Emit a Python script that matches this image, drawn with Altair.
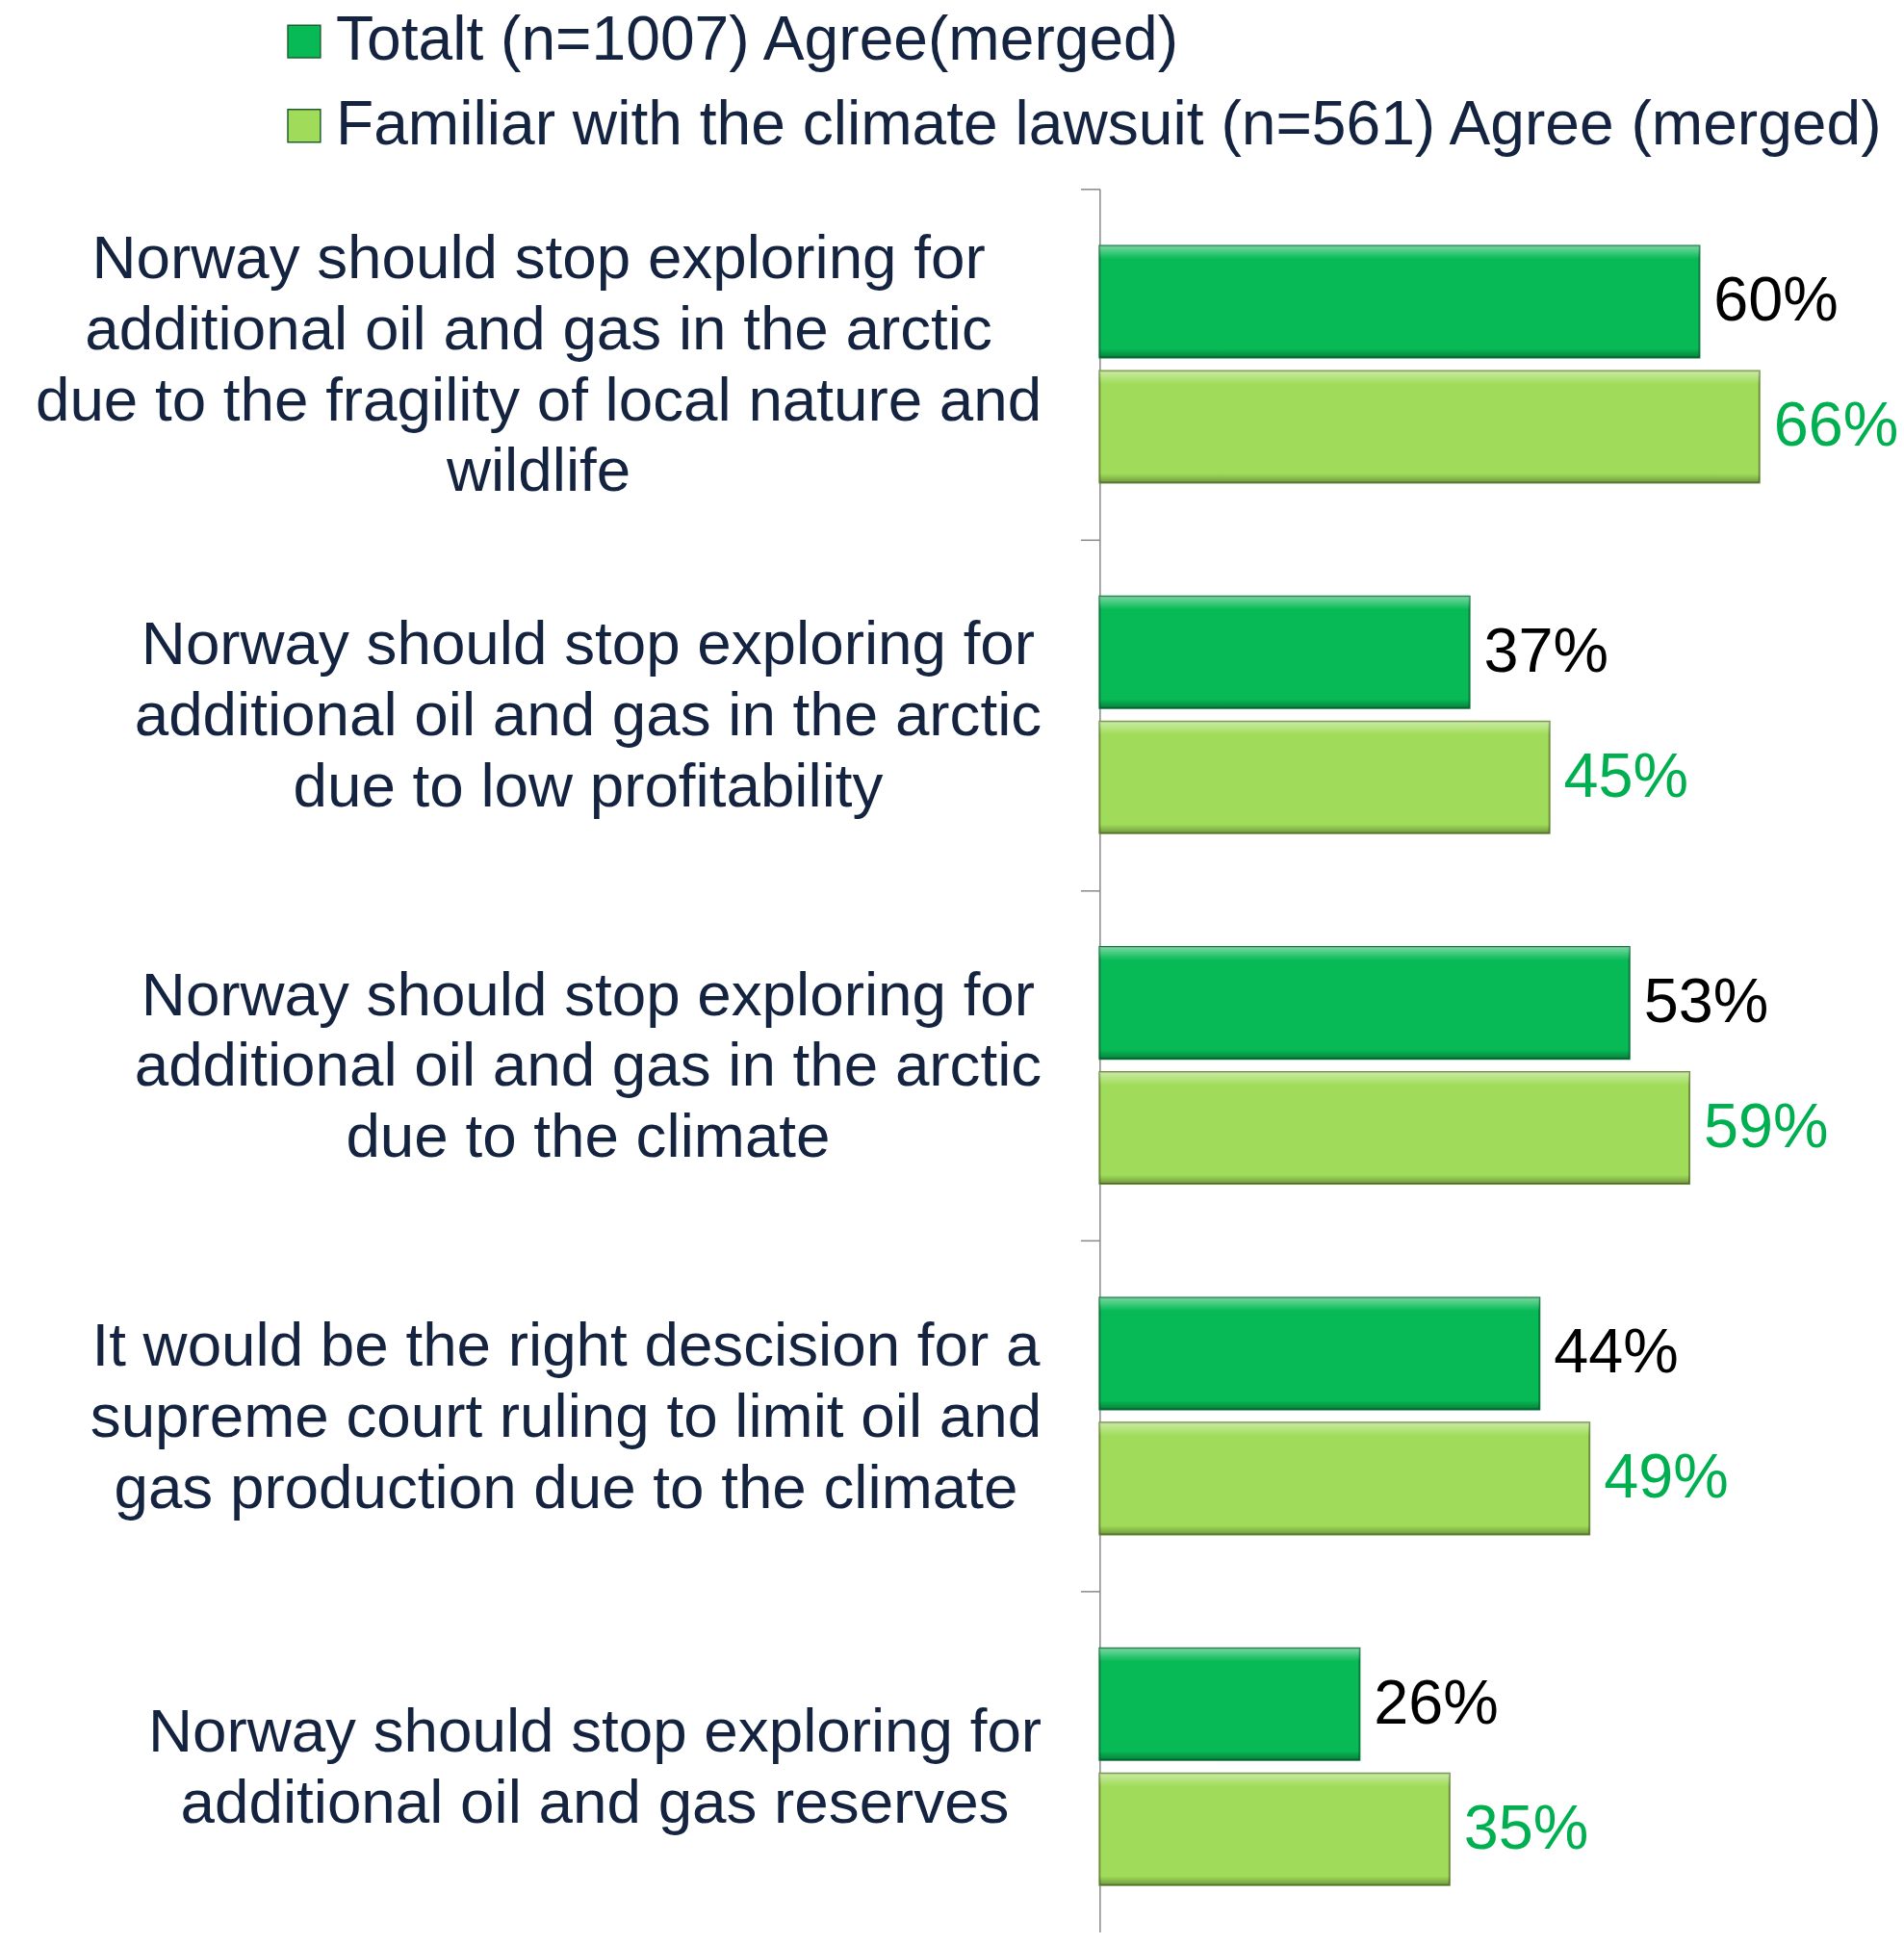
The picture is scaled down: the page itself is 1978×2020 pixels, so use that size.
import altair as alt
import pandas as pd

categories = [
    "Norway should stop exploring for|additional oil and gas in the arctic|due to the fragility of local nature and|wildlife",
    "Norway should stop exploring for|additional oil and gas in the arctic|due to low profitability",
    "Norway should stop exploring for|additional oil and gas in the arctic|due to the climate",
    "It would be the right descision for a|supreme court ruling to limit oil and|gas production due to the climate",
    "Norway should stop exploring for|additional oil and gas reserves",
]
series = ["Totalt (n=1007) Agree(merged)", "Familiar with the climate lawsuit (n=561) Agree (merged)"]
total = [60, 37, 53, 44, 26]
familiar = [66, 45, 59, 49, 35]

rows = []
for c, t, f in zip(categories, total, familiar):
    rows.append({"question": c, "series": series[0], "value": t})
    rows.append({"question": c, "series": series[1], "value": f})
df = pd.DataFrame(rows)

FONT = "Liberation Sans"
NAVY = "#14233F"
bar_colors = ["#07BA55", "#A0DC59"]
bar_strokes = ["#0B7A3C", "#6E8F3C"]
label_colors = ["#000000", "#00B050"]
LABEL_SIZE = 64
LH = 74

# Arial / Liberation Sans advance widths (per 1000 em) to centre each label block
# in a right-aligned column, like the original category labels.
ADV = {" ": 278, "a": 556, "b": 556, "c": 500, "d": 556, "e": 556, "f": 278, "g": 556,
       "h": 556, "i": 222, "j": 222, "k": 500, "l": 222, "m": 833, "n": 556, "o": 556,
       "p": 556, "q": 556, "r": 333, "s": 500, "t": 278, "u": 556, "v": 500, "w": 722,
       "x": 500, "y": 500, "z": 500, "N": 722, "I": 278}


def block_width(label):
    return max(sum(ADV.get(ch, 556) for ch in line) for line in label.split("|")) * LABEL_SIZE / 1000


pad_expr = "0"
for c in reversed(categories):
    pad_expr = f"datum.value == '{c}' ? {41 + block_width(c) / 2:.1f} : ({pad_expr})"

y_enc = alt.Y(
    "question:N",
    sort=categories,
    scale=alt.Scale(paddingInner=0, paddingOuter=0, range=[0, 1829]),
    axis=alt.Axis(
        title=None,
        labelExpr="split(datum.label, '|')",
        labelAlign="center",
        labelBaseline="middle",
        labelPadding={"expr": pad_expr},
        labelOffset={"expr": f"2 - (length(split(datum.value, '|')) - 1) * {LH / 2}"},
        labelFontSize=LABEL_SIZE,
        labelFont=FONT,
        labelColor=NAVY,
        labelLineHeight=LH,
        labelLimit=0,
        tickBand="extent",
        tickSize=20,
        tickColor="#888888",
        tickWidth=1.5,
        domainColor="#888888",
        domainWidth=1.5,
        grid=False,
    ),
)
yoff = alt.YOffset("series:N", sort=series, scale=alt.Scale(paddingInner=0.107, paddingOuter=0.455))
x_enc = alt.X("value:Q", scale=alt.Scale(domain=[0, 75], nice=False), axis=None)

bars = alt.Chart(df).mark_bar(strokeWidth=2).encode(
    y=y_enc,
    yOffset=yoff,
    x=x_enc,
    color=alt.Color(
        "series:N",
        sort=series,
        scale=alt.Scale(domain=series, range=bar_colors),
        legend=alt.Legend(
            orient="none",
            legendX=-862,
            legendY=-186,
            direction="vertical",
            title=None,
            labelFontSize=64.4,
            labelFont=FONT,
            labelColor=NAVY,
            labelLimit=0,
            symbolType="square",
            symbolSize=1156,
            symbolStrokeWidth=1.5,
            symbolStrokeColor="#1f5f2f",
            rowPadding=23,
            labelOffset=1,
        ),
    ),
    stroke=alt.Stroke("series:N", scale=alt.Scale(domain=series, range=bar_strokes), legend=None),
)

shade = alt.Gradient(
    gradient="linear",
    x1=0, x2=0, y1=0, y2=1,
    stops=[
        alt.GradientStop(offset=0, color="rgba(255,255,255,0.45)"),
        alt.GradientStop(offset=0.09, color="rgba(255,255,255,0.1)"),
        alt.GradientStop(offset=0.12, color="rgba(255,255,255,0)"),
        alt.GradientStop(offset=0.92, color="rgba(0,0,0,0)"),
        alt.GradientStop(offset=1, color="rgba(0,0,0,0.3)"),
    ],
)

bevel = alt.Chart(df).mark_bar(fill=shade, strokeWidth=0).encode(
    y=alt.Y("question:N", sort=categories),
    yOffset=alt.YOffset("series:N", sort=series),
    x=alt.X("value:Q"),
)

labels = alt.Chart(df).transform_calculate(
    txt="datum.value + '%'"
).mark_text(align="left", baseline="middle", dx=15, fontSize=65, font=FONT).encode(
    y=alt.Y("question:N", sort=categories),
    yOffset=alt.YOffset("series:N", sort=series),
    x=alt.X("value:Q"),
    text="txt:N",
    color=alt.Color("series:N", scale=alt.Scale(domain=series, range=label_colors), legend=None),
)

chart = (
    alt.layer(bars, bevel, labels)
    .resolve_scale(color="independent")
    .properties(
        width=782,
        height=1815,
        padding={"left": 1139, "top": 185, "right": 49, "bottom": 0},
        autosize=alt.AutoSizeParams(type="none"),
        background="white",
    )
    .configure_view(stroke=None)
)

chart.save("out.html", embed_options={"renderer": "svg", "actions": False})
